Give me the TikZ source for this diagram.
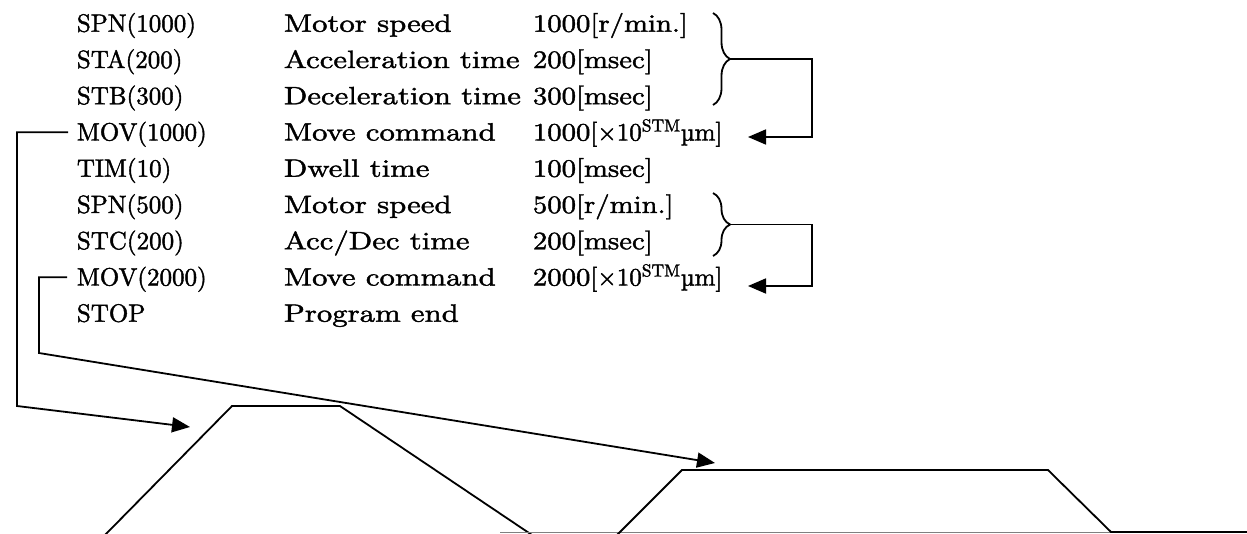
\documentclass[tikz,border=0pt]{standalone}
\usepackage{fontspec}
\usetikzlibrary{arrows.meta,decorations.pathreplacing}

\newfontfamily\cmdfont{lmroman10-regular.otf}[FakeBold=1.6]
\newfontfamily\descfont{lmroman10-regular.otf}[FakeStretch=1.23,FakeBold=1.6]
\newfontfamily\valfont{lmroman10-regular.otf}[FakeStretch=1.15,FakeBold=1.6]
\newcommand{\unitmm}{{\cmdfont[×10\textsuperscript{STM}µm]}}

\begin{document}
\begin{tikzpicture}
    [
        x=1pt, y=-1pt,
        line width=1.8pt,
        txt/.style={
                anchor=west,
                inner sep=0pt,
                text height=16.5pt,
                text depth=0pt,
                font=\fontsize{25}{25}#1,
            },
        conn/.style={
                -{Triangle[length=18pt,width=15pt]},
            },
        curly/.style={
                decorate,
                decoration={brace,amplitude=17pt},
            },
    ]

    \useasboundingbox (0,0) rectangle (1247,533);

    % program listing
    \node [txt=\cmdfont] (cmd1) at (76,23.5) {SPN(1000)};
    \node [txt=\cmdfont] (cmd2) at (76,59.75) {STA(200)};
    \node [txt=\cmdfont] (cmd3) at (76,96) {STB(300)};
    \node [txt=\cmdfont] (cmd4) at (76,132.25) {MOV(1000)};
    \node [txt=\cmdfont] (cmd5) at (76,168.5) {TIM(10)};
    \node [txt=\cmdfont] (cmd6) at (76,204.75) {SPN(500)};
    \node [txt=\cmdfont] (cmd7) at (76,241) {STC(200)};
    \node [txt=\cmdfont] (cmd8) at (76,277.25) {MOV(2000)};
    \node [txt=\cmdfont] (cmd9) at (76,313.5) {STOP};

    \node [txt=\descfont] (desc1) at (283,23.5) {Motor speed};
    \node [txt=\descfont] (desc2) at (283,59.75) {Acceleration time};
    \node [txt=\descfont] (desc3) at (283,96) {Deceleration time};
    \node [txt=\descfont] (desc4) at (283,132.25) {Move command};
    \node [txt=\descfont] (desc5) at (283,168.5) {Dwell time};
    \node [txt=\descfont] (desc6) at (283,204.75) {Motor speed};
    \node [txt=\descfont] (desc7) at (283,241) {Acc/Dec time};
    \node [txt=\descfont] (desc8) at (283,277.25) {Move command};
    \node [txt=\descfont] (desc9) at (283,313.5) {Program end};

    \node [txt=\valfont] (val1) at (532,23.5) {1000[r/min.]};
    \node [txt=\valfont] (val2) at (532,59.75) {200[msec]};
    \node [txt=\valfont] (val3) at (532,96) {300[msec]};
    \node [txt=\valfont] (val4) at (532,132.25) {1000\unitmm};
    \node [txt=\valfont] (val5) at (532,168.5) {100[msec]};
    \node [txt=\valfont] (val6) at (532,204.75) {500[r/min.]};
    \node [txt=\valfont] (val7) at (532,241) {200[msec]};
    \node [txt=\valfont] (val8) at (532,277.25) {2000\unitmm};

    % braces grouping the settings
    \draw [curly] (713,13) -- (713,105);
    \draw [curly] (713,193) -- (713,256);
    \coordinate (b1) at (730,59);
    \coordinate (b2) at (730,224.5);
    \coordinate (turn1) at (812,137);
    \coordinate (turn2) at (812,286);
    \coordinate (tip1) at (748,137);
    \coordinate (tip2) at (748,286);
    \draw [conn] (b1) -| (turn1) -- (tip1);
    \draw [conn] (b2) -| (turn2) -- (tip2);

    % speed profiles
    \coordinate (outer) at (17,406);
    \coordinate (inner) at (39,353);
    \coordinate (prof1) at (190,427);
    \coordinate (prof2) at (715,463);
    \draw [conn, shorten <=8pt] (cmd4.west) -| (outer) -- (prof1);
    \draw [conn, shorten <=9pt] (cmd8.west) -| (inner) -- (prof2);

    \draw (105,535) -- (232,406) -- (340,406) -- (532,535);
    \draw [gray, line width=1pt] (500,532.5) -- (1111,532.5);
    \draw (617,535) -- (682,470) -- (1048,470) -- (1111,532) -- (1247,532);
\end{tikzpicture}
\end{document}
